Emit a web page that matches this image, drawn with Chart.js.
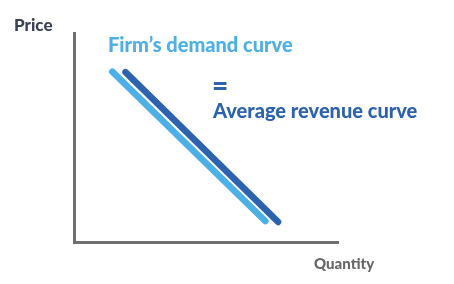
<!DOCTYPE html>
<html>
<head>
<meta charset="utf-8">
<script src="https://cdn.jsdelivr.net/npm/chart.js@4/dist/chart.umd.min.js"></script>
<style>
  html, body { margin: 0; padding: 0; background: #fff; }
  #wrap { width: 454px; height: 284px; position: relative; }
</style>
</head>
<body>
<div id="wrap"><canvas id="chart-area" width="454" height="284"></canvas></div>
<script>
// demand curve (light) and average revenue curve (dark), in axis units 0..100
var demandQty = [14.5, 72.5];
var demandPrice = [81.5, 10];
var revenueQty = [19.5, 77.3];
var revenuePrice = [81.3, 9.6];

var axisLabels = { y: "Price", x: "Quantity" };
var curveLabels = ["Firm\u2019s demand curve", "=", "Average revenue curve"];

var LIGHT = "#4cb0e6";
var DARK = "#2d62ae";

function toPoints(xs, ys) {
    var pts = [];
    for (var i = 0; i < xs.length; i++) {
        pts.push({ x: xs[i], y: ys[i] });
    }
    return pts;
}

var textPlugin = {
    id: 'labels',
    afterDraw: function (chart) {
        var ctx = chart.ctx;
        ctx.save();
        ctx.textBaseline = 'alphabetic';
        ctx.textAlign = 'left';

        ctx.font = "900 17px Lato";
        ctx.fillStyle = "#3b4252";
        ctx.fillText(axisLabels.y, 14, 31);

        ctx.font = "900 15px Lato";
        ctx.fillStyle = "#666666";
        ctx.fillText(axisLabels.x, 314, 269);

        ctx.font = "900 20px Lato";
        ctx.fillStyle = LIGHT;
        ctx.fillText(curveLabels[0], 108, 52);

        ctx.fillStyle = DARK;
        ctx.fillText(curveLabels[2], 213, 118);

        ctx.font = "900 28px Lato";
        ctx.fillText(curveLabels[1], 212, 96);
        ctx.restore();
    }
};

var config = {
    type: 'scatter',
    data: {
        datasets: [{
            data: toPoints(demandQty, demandPrice),
            showLine: true,
            borderColor: LIGHT,
            borderWidth: 6.5,
            borderCapStyle: 'round',
            pointRadius: 0
        }, {
            data: toPoints(revenueQty, revenuePrice),
            showLine: true,
            borderColor: DARK,
            borderWidth: 6.5,
            borderCapStyle: 'round',
            pointRadius: 0
        }]
    },
    options: {
        responsive: false,
        animation: false,
        layout: { padding: { left: 66, right: 116, top: 33, bottom: 34 } },
        plugins: { legend: { display: false }, tooltip: { enabled: false } },
        scales: {
            x: {
                min: 0, max: 100,
                grid: { display: false },
                ticks: { display: false },
                border: { color: "#707070", width: 3 }
            },
            y: {
                min: 0, max: 100,
                grid: { display: false },
                ticks: { display: false },
                border: { color: "#707070", width: 3 }
            }
        }
    },
    plugins: [textPlugin]
};

var ctx = document.getElementById("chart-area").getContext("2d");
window.myChart = new Chart(ctx, config);
</script>
</body>
</html>
